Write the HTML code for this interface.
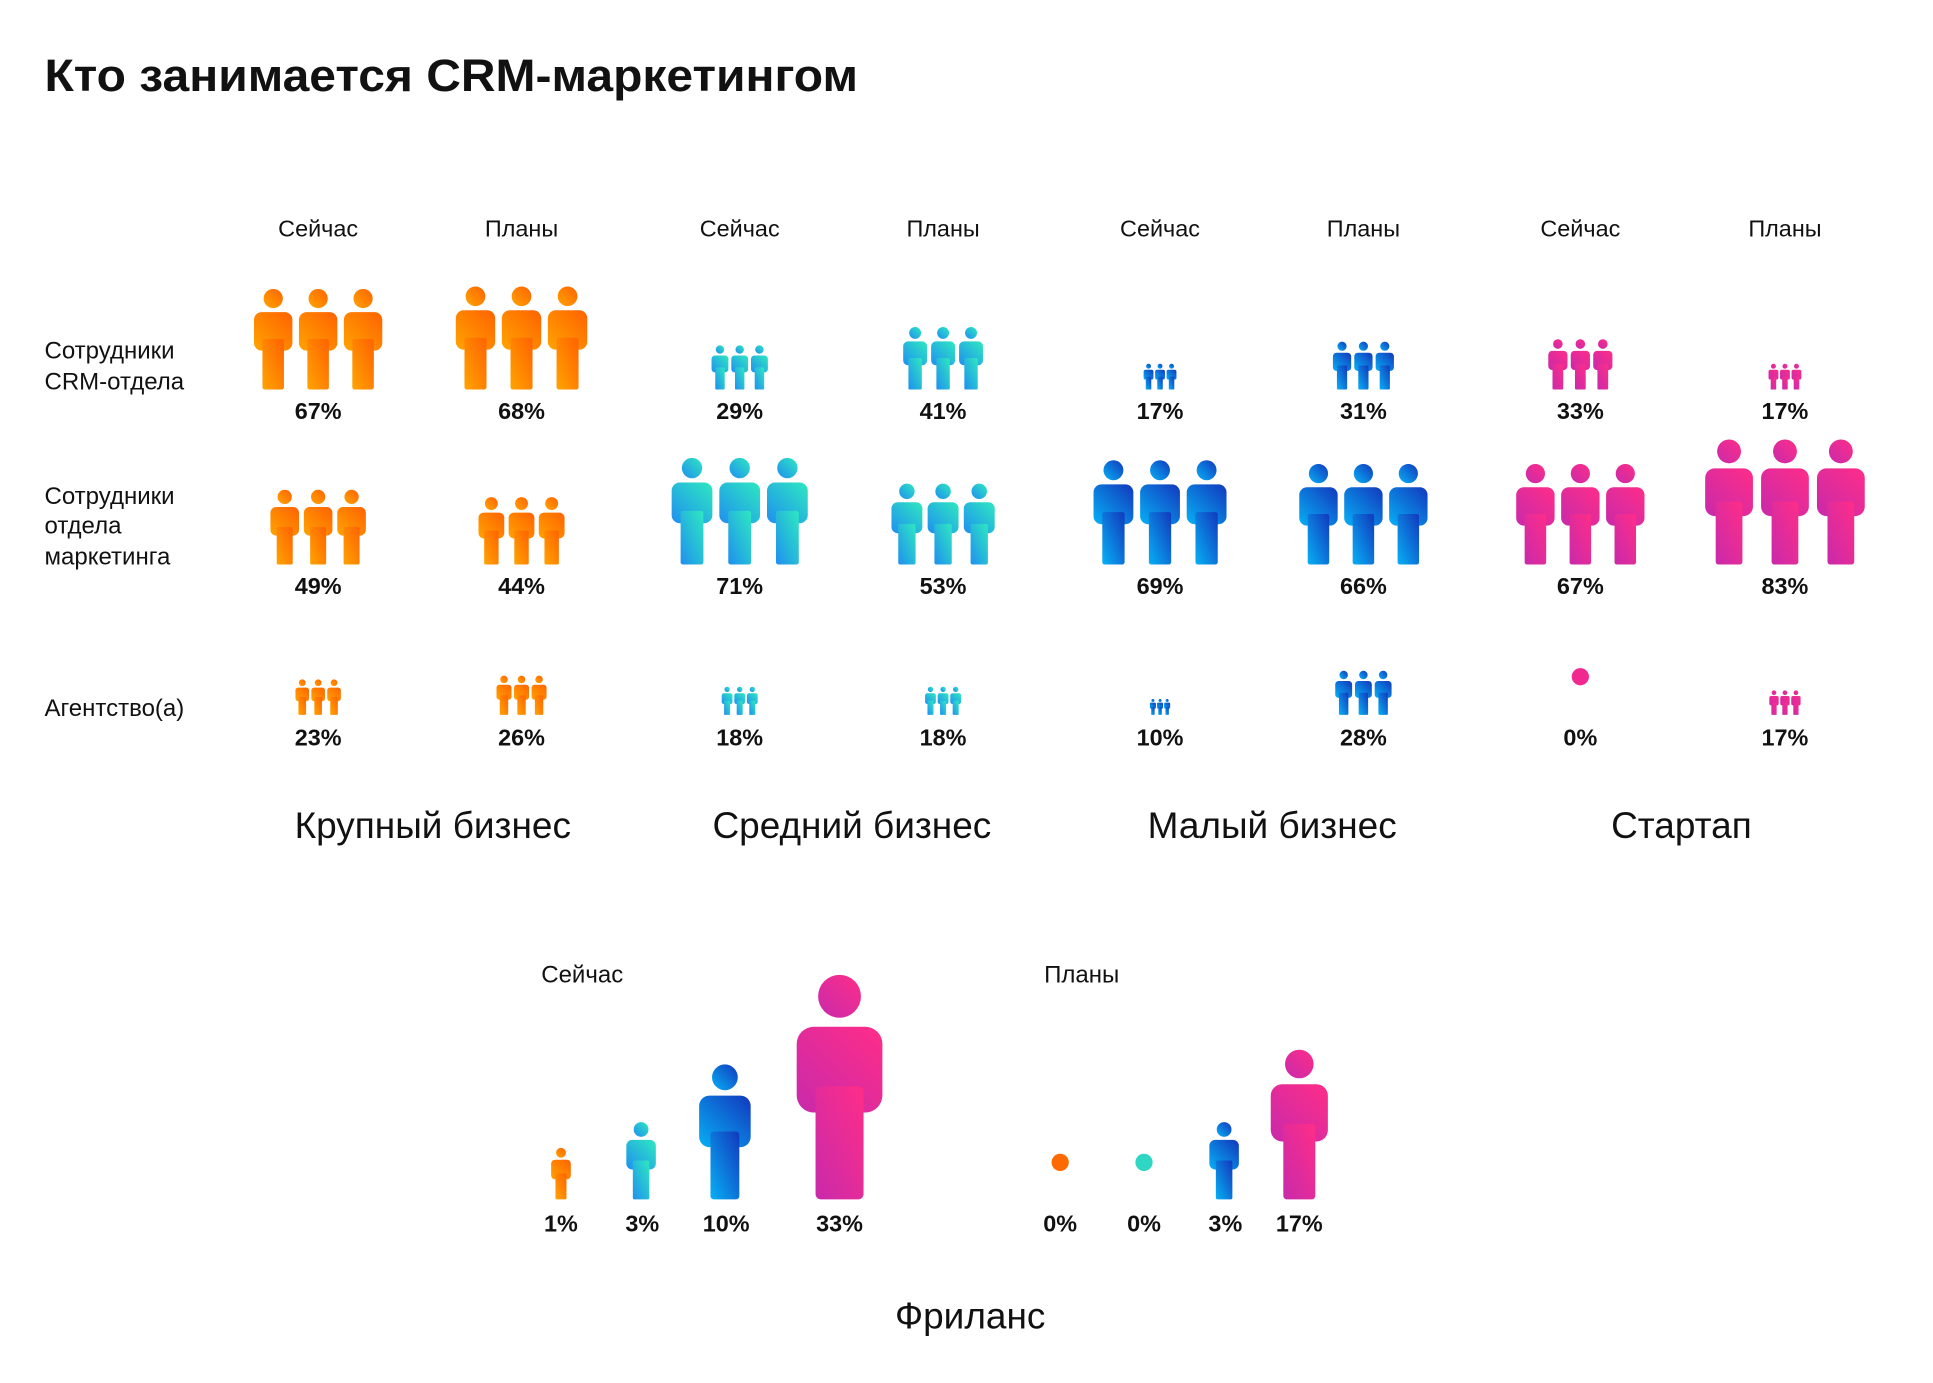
<!DOCTYPE html>
<html><head><meta charset="utf-8"><style>
html,body{margin:0;padding:0;background:#fff;width:1933px;height:1383px;overflow:hidden}
svg{display:block}
text{font-family:"Liberation Sans","DejaVu Sans",sans-serif;fill:#111}
.h{font-size:19px;text-anchor:middle}
.p{font-size:19px;font-weight:bold;text-anchor:middle}
.r{font-size:19.5px}
.c{font-size:30px;text-anchor:middle}
</style></head><body>
<svg id="s" width="1933" height="1383" viewBox="0 0 1568 1122" xmlns="http://www.w3.org/2000/svg">
<defs>
<linearGradient id="go" x1="0" y1="1" x2="1" y2="0"><stop offset="0" stop-color="#ffa400"/><stop offset="1" stop-color="#ff6200"/></linearGradient>
<linearGradient id="gt" x1="0" y1="1" x2="1" y2="0"><stop offset="0" stop-color="#1f8ff0"/><stop offset="1" stop-color="#2ee8c0"/></linearGradient>
<linearGradient id="gb" x1="0" y1="1" x2="1" y2="0"><stop offset="0" stop-color="#07b0f5"/><stop offset="1" stop-color="#1238bd"/></linearGradient>
<linearGradient id="gp" x1="0" y1="1" x2="1" y2="0"><stop offset="0" stop-color="#c82aab"/><stop offset="1" stop-color="#ff2d88"/></linearGradient>
</defs>
<text x="36" y="74" style="font-size:37px;font-weight:bold" textLength="660" lengthAdjust="spacingAndGlyphs">Кто занимается CRM-маркетингом</text>
<g class="hdr">
<text class="h" x="258" y="192">Сейчас</text><text class="h" x="423" y="192">Планы</text>
<text class="h" x="600" y="192">Сейчас</text><text class="h" x="765" y="192">Планы</text>
<text class="h" x="941" y="192">Сейчас</text><text class="h" x="1106" y="192">Планы</text>
<text class="h" x="1282" y="192">Сейчас</text><text class="h" x="1448" y="192">Планы</text>
</g>
<text class="r" x="36" y="291">Сотрудники</text><text class="r" x="36" y="316">CRM-отдела</text>
<text class="r" x="36" y="409">Сотрудники</text><text class="r" x="36" y="433">отдела</text><text class="r" x="36" y="458">маркетинга</text>
<text class="r" x="36" y="581">Агентство(а)</text>
<text class="p" x="258" y="340">67%</text><text class="p" x="423" y="340">68%</text><text class="p" x="600" y="340">29%</text><text class="p" x="765" y="340">41%</text><text class="p" x="941" y="340">17%</text><text class="p" x="1106" y="340">31%</text><text class="p" x="1282" y="340">33%</text><text class="p" x="1448" y="340">17%</text>
<text class="p" x="258" y="482">49%</text><text class="p" x="423" y="482">44%</text><text class="p" x="600" y="482">71%</text><text class="p" x="765" y="482">53%</text><text class="p" x="941" y="482">69%</text><text class="p" x="1106" y="482">66%</text><text class="p" x="1282" y="482">67%</text><text class="p" x="1448" y="482">83%</text>
<text class="p" x="258" y="605">23%</text><text class="p" x="423" y="605">26%</text><text class="p" x="600" y="605">18%</text><text class="p" x="765" y="605">18%</text><text class="p" x="941" y="605">10%</text><text class="p" x="1106" y="605">28%</text><text class="p" x="1282" y="605">0%</text><text class="p" x="1448" y="605">17%</text>
<text class="c" x="351" y="680">Крупный бизнес</text><text class="c" x="691" y="680">Средний бизнес</text><text class="c" x="1032" y="680">Малый бизнес</text><text class="c" x="1364" y="680">Стартап</text>
<text class="r" x="439" y="797">Сейчас</text><text class="r" x="847" y="797">Планы</text>
<text class="p" x="455" y="999">1%</text><text class="p" x="521" y="999">3%</text><text class="p" x="589" y="999">10%</text><text class="p" x="681" y="999">33%</text>
<text class="p" x="860" y="999">0%</text><text class="p" x="928" y="999">0%</text><text class="p" x="994" y="999">3%</text><text class="p" x="1054" y="999">17%</text>
<text class="c" x="787" y="1078">Фриланс</text>
<circle cx="1282" cy="549" r="7" fill="#f0288f"/>
<circle cx="860" cy="943" r="7" fill="#ff6a00"/>
<circle cx="928" cy="943" r="7" fill="#2fd6c4"/>
<g id="icons"></g>
</svg>
<script>
var g=document.getElementById('icons'),NS='http://www.w3.org/2000/svg';
function person(cx,top,H,f){var w=H*0.38,x=cx-w/2;
 var e=document.createElementNS(NS,'g');e.setAttribute('fill','url(#'+f+')');
 e.innerHTML='<circle cx="'+cx+'" cy="'+(top+H*0.1)+'" r="'+(H*0.095)+'"/>'+
 '<rect x="'+x+'" y="'+(top+H*0.235)+'" width="'+w+'" height="'+(H*0.38)+'" rx="'+(w*0.2)+'"/>'+
 '<rect x="'+(cx-w*0.28)+'" y="'+(top+H*0.5)+'" width="'+(w*0.56)+'" height="'+(H*0.5)+'" rx="'+(w*0.06)+'"/>';
 g.appendChild(e);}
function trio(cx,top,H,f){var w=H*0.38,s=w*1.17;for(var i=-1;i<=1;i++)person(cx+i*s,top,H,f);}
var d=[
[258,234,82,'go'],[423,232,84,'go'],[600,280,36,'gt'],[765,265,51,'gt'],[941,295,21,'gb'],[1106,277,39,'gb'],[1282,275,41,'gp'],[1448,295,21,'gp'],
[258,397,61,'go'],[423,403,55,'go'],[600,371,87,'gt'],[765,392,66,'gt'],[941,373,85,'gb'],[1106,376,82,'gb'],[1282,376,82,'gp'],[1448,356,102,'gp'],
[258,551,29,'go'],[423,548,32,'go'],[600,557,23,'gt'],[765,557,23,'gt'],[941,567,13,'gb'],[1106,544,36,'gb'],[1448,560,20,'gp']];
d.forEach(function(a){trio(a[0],a[1],a[2],a[3]);});
person(455,931,42,'go');person(520,910,63,'gt');person(588,863,110,'gb');person(681,790,183,'gp');
person(993,910,63,'gb');person(1054,851,122,'gp');
</script>
</body></html>
